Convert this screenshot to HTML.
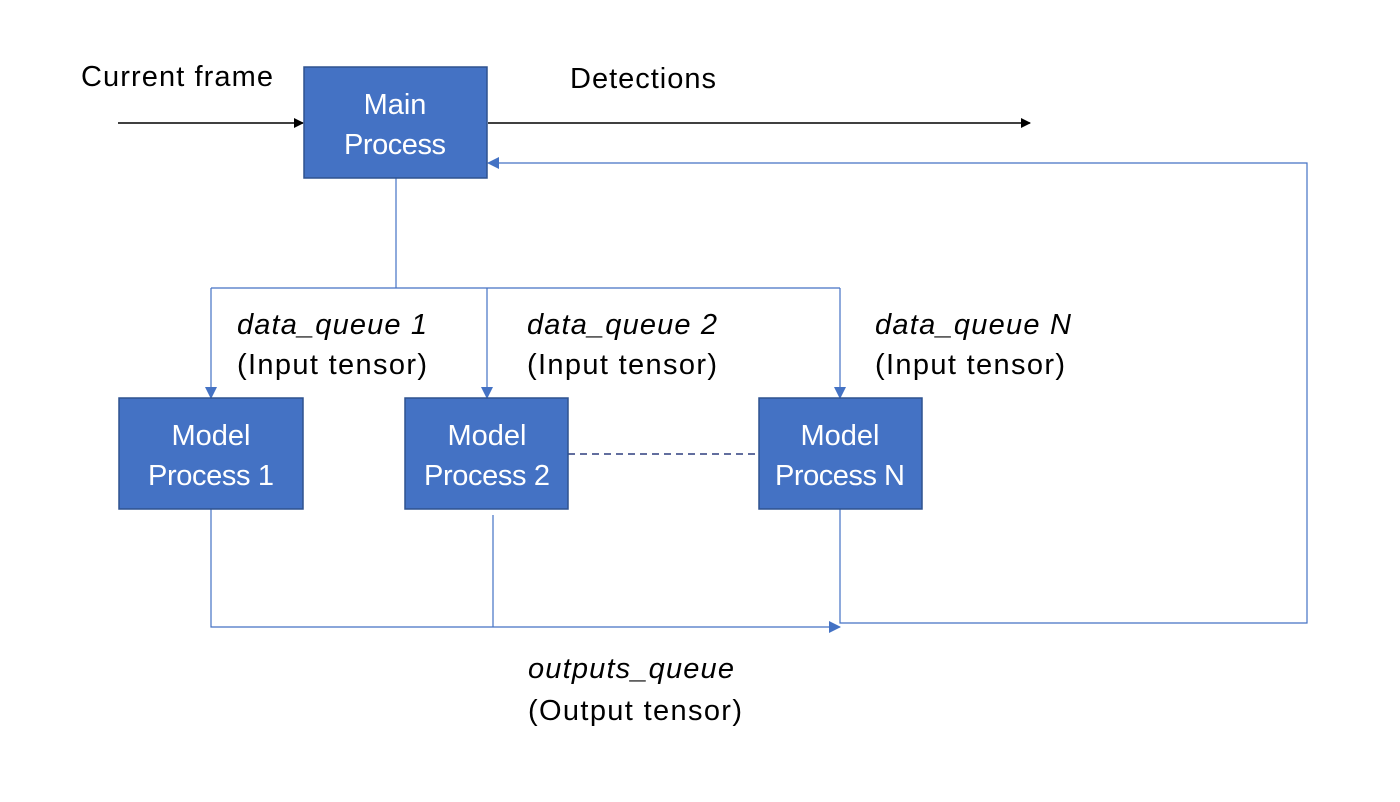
<!DOCTYPE html>
<html><head><meta charset="utf-8"><style>
html,body{margin:0;padding:0;background:#fff;}
svg{display:block;}
text{font-family:"Liberation Sans",sans-serif;font-size:29px;}
.w{fill:#fff;}
.i{font-style:italic;}
</style></head><body>
<svg width="1400" height="802" viewBox="0 0 1400 802" xmlns="http://www.w3.org/2000/svg">
<defs>
<marker id="ab" markerWidth="10" markerHeight="10" refX="9" refY="5" orient="auto" markerUnits="userSpaceOnUse"><path d="M0,0 L10,5 L0,10 Z" fill="#000"/></marker>
<marker id="au" markerWidth="12" markerHeight="12" refX="11" refY="6" orient="auto" markerUnits="userSpaceOnUse"><path d="M0,0 L12,6 L0,12 Z" fill="#4472C4"/></marker>
</defs>
<g stroke="#000" stroke-width="1.5" fill="none">
<line x1="118" y1="123" x2="303" y2="123" marker-end="url(#ab)"/>
<line x1="488" y1="123" x2="1030" y2="123" marker-end="url(#ab)"/>
</g>
<g stroke="#4472C4" stroke-width="1.2" fill="none">
<line x1="396" y1="178" x2="396" y2="288"/>
<line x1="211" y1="288" x2="840" y2="288"/>
<line x1="211" y1="288" x2="211" y2="398" marker-end="url(#au)"/>
<line x1="487" y1="288" x2="487" y2="398" marker-end="url(#au)"/>
<line x1="840" y1="288" x2="840" y2="398" marker-end="url(#au)"/>
<line x1="568" y1="454" x2="759" y2="454" stroke="#2F3F7F" stroke-dasharray="7,5" stroke-width="1.5"/>
<polyline points="211,509 211,627 840,627" marker-end="url(#au)"/>
<line x1="493" y1="515" x2="493" y2="627"/>
<polyline points="840,509 840,623 1307,623 1307,163 488,163" marker-end="url(#au)"/>
</g>
<g fill="#4472C4" stroke="#2F528F" stroke-width="1.5">
<rect x="304" y="67" width="183" height="111"/>
<rect x="119" y="398" width="184" height="111"/>
<rect x="405" y="398" width="163" height="111"/>
<rect x="759" y="398" width="163" height="111"/>
</g>
<g text-anchor="middle">
<text x="395" y="114" class="w">Main</text>
<text x="395" y="154" class="w" textLength="102">Process</text>
<text x="211" y="445" class="w">Model</text>
<text x="211" y="485" class="w" textLength="126">Process 1</text>
<text x="487" y="445" class="w">Model</text>
<text x="487" y="485" class="w" textLength="126">Process 2</text>
<text x="840" y="445" class="w">Model</text>
<text x="840" y="485" class="w" textLength="130">Process N</text>
</g>
<text x="81" y="86" textLength="192">Current frame</text>
<text x="570" y="88" textLength="146">Detections</text>
<text x="237" y="334" class="i" textLength="190">data_queue 1</text>
<text x="237" y="374" textLength="190">(Input tensor)</text>
<text x="527" y="334" class="i" textLength="190">data_queue 2</text>
<text x="527" y="374" textLength="190">(Input tensor)</text>
<text x="875" y="334" class="i" textLength="196">data_queue N</text>
<text x="875" y="374" textLength="190">(Input tensor)</text>
<text x="528" y="678" class="i" textLength="206">outputs_queue</text>
<text x="528" y="720" textLength="214">(Output tensor)</text>
</svg>
</body></html>
